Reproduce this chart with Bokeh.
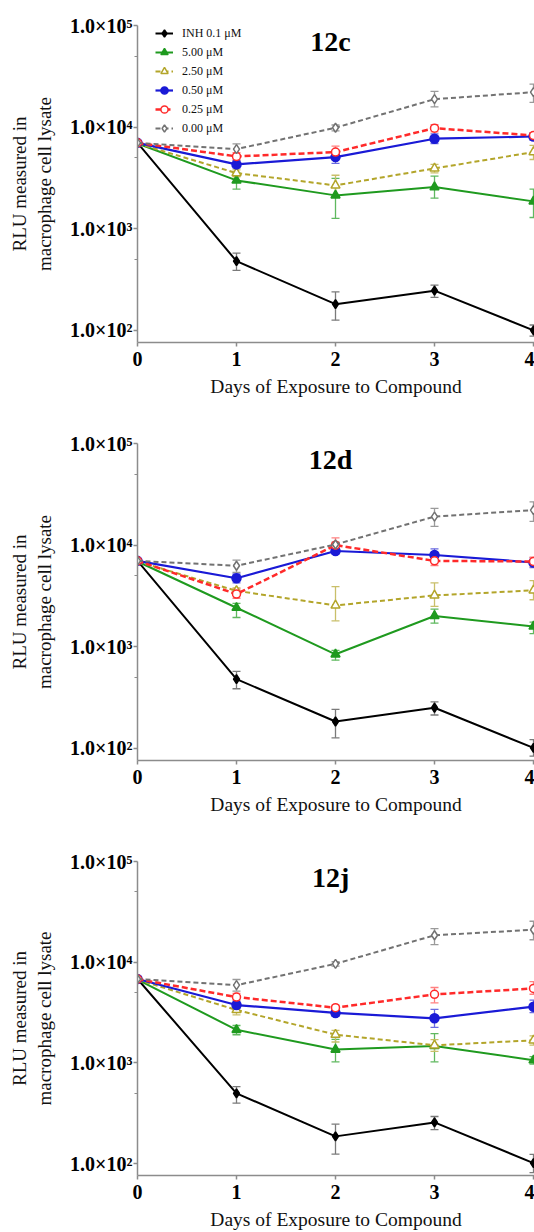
import math
from bokeh.plotting import figure
from bokeh.models import (ColumnDataSource, Whisker, TeeHead, FixedTicker,
                          Legend, LegendItem, Label, Range1d)
from bokeh.layouts import column
from bokeh.embed import file_html
from bokeh.resources import INLINE

# ---------------- data ----------------
days = [0, 1, 2, 3, 4]
series_labels = ["INH 0.1 \u03bcM", "5.00 \u03bcM", "2.50 \u03bcM", "0.50 \u03bcM", "0.25 \u03bcM", "0.00 \u03bcM"]
panel_titles = ["12c", "12d", "12j"]
y_tick_values = [1e2, 1e3, 1e4, 1e5]
y_tick_labels = ["1.0\u00d710\u00b2", "1.0\u00d710\u00b3", "1.0\u00d710\u2074", "1.0\u00d710\u2075"]
x_tick_values = [0, 1, 2, 3, 4]

# panel 12c
c_inh_mean = [7000, 480, 181, 246, 100]
c_inh_up = [7300, 577, 239, 279, 113]
c_inh_lo = [6700, 390, 126, 211, 88]
c_500_mean = [6900, 2990, 2130, 2570, 1860]
c_500_up = [7200, 3550, 3130, 3300, 2460]
c_500_lo = [6600, 2450, 1265, 2000, 1290]
c_250_mean = [6900, 3530, 2670, 3925, 5680]
c_250_up = [7200, 3800, 3360, 4300, 6600]
c_250_lo = [6600, 3250, 2040, 3550, 4800]
c_050_mean = [7000, 4300, 5070, 7690, 8090]
c_050_up = [7300, 4700, 5900, 8600, 8800]
c_050_lo = [6700, 3950, 4400, 6900, 7400]
c_025_mean = [7000, 5150, 5680, 9770, 8280]
c_025_up = [7300, 5600, 6500, 10600, 8800]
c_025_lo = [6700, 4750, 5000, 9000, 7700]
c_000_mean = [7000, 6080, 9860, 18840, 22080]
c_000_up = [7300, 6850, 10500, 22500, 26500]
c_000_lo = [6700, 5300, 9200, 15800, 17500]

# panel 12d
d_inh_mean = [7000, 480, 184, 251, 101]
d_inh_up = [7300, 573, 242, 287, 122]
d_inh_lo = [6700, 386, 127, 213, 84]
d_500_mean = [6900, 2420, 843, 2010, 1585]
d_500_up = [7200, 2670, 922, 2350, 1746]
d_500_lo = [6600, 1940, 738, 1706, 1345]
d_250_mean = [6900, 3550, 2550, 3200, 3590]
d_250_up = [7200, 3800, 3900, 4250, 4480]
d_250_lo = [6600, 3300, 1800, 2500, 2900]
d_050_mean = [7000, 4720, 8750, 8000, 6750]
d_050_up = [7300, 5200, 9300, 9200, 7500]
d_050_lo = [6700, 4250, 8200, 7100, 6000]
d_025_mean = [7000, 3300, 10000, 7000, 6900]
d_025_up = [7300, 3700, 11770, 7600, 7600]
d_025_lo = [6700, 3000, 9070, 6300, 6200]
d_000_mean = [7000, 6270, 10150, 19100, 22130]
d_000_up = [7300, 7110, 10700, 22960, 26700]
d_000_lo = [6700, 5390, 9600, 15280, 17100]

# panel 12j
j_inh_mean = [6800, 498, 186, 256, 101]
j_inh_up = [7100, 580, 246, 293, 123]
j_inh_lo = [6500, 397, 124, 217, 81]
j_500_mean = [6700, 2130, 1354, 1470, 1062]
j_500_up = [7000, 2350, 1714, 1950, 1150]
j_500_lo = [6400, 1900, 1023, 1023, 970]
j_250_mean = [6700, 3350, 1905, 1494, 1675]
j_250_up = [7000, 3800, 2100, 1700, 1850]
j_250_lo = [6400, 3000, 1610, 1300, 1500]
j_050_mean = [6800, 3750, 3130, 2770, 3610]
j_050_up = [7100, 4100, 3400, 3400, 4200]
j_050_lo = [6500, 3450, 2900, 2250, 3150]
j_025_mean = [6800, 4500, 3530, 4790, 5480]
j_025_up = [7100, 4900, 3750, 5600, 6400]
j_025_lo = [6500, 4200, 3350, 3950, 4800]
j_000_mean = [6800, 5910, 9620, 18500, 21000]
j_000_up = [7100, 6730, 10100, 21500, 25500]
j_000_lo = [6500, 5160, 9150, 14960, 16700]

panel_data = [
    [(c_inh_mean, c_inh_up, c_inh_lo), (c_500_mean, c_500_up, c_500_lo),
     (c_250_mean, c_250_up, c_250_lo), (c_050_mean, c_050_up, c_050_lo),
     (c_025_mean, c_025_up, c_025_lo), (c_000_mean, c_000_up, c_000_lo)],
    [(d_inh_mean, d_inh_up, d_inh_lo), (d_500_mean, d_500_up, d_500_lo),
     (d_250_mean, d_250_up, d_250_lo), (d_050_mean, d_050_up, d_050_lo),
     (d_025_mean, d_025_up, d_025_lo), (d_000_mean, d_000_up, d_000_lo)],
    [(j_inh_mean, j_inh_up, j_inh_lo), (j_500_mean, j_500_up, j_500_lo),
     (j_250_mean, j_250_up, j_250_lo), (j_050_mean, j_050_up, j_050_lo),
     (j_025_mean, j_025_up, j_025_lo), (j_000_mean, j_000_up, j_000_lo)],
]

# ---------------- styles ----------------
styles = [
    dict(color="#000000", dash="solid", marker="diamond", fill=True, size=9, lw=2.0),
    dict(color="#1f9a1f", dash="solid", marker="triangle", fill=True, size=9, lw=2.0),
    dict(color="#b3a52a", dash="5 3", marker="triangle", fill=False, size=9, lw=2.0),
    dict(color="#1a1ad6", dash="solid", marker="circle", fill=True, size=9, lw=2.2),
    dict(color="#ff2a2a", dash="6 3", marker="circle", fill=False, size=8, lw=2.5),
    dict(color="#727272", dash="5 3", marker="diamond", fill=False, size=9, lw=2.0),
]
errbar_colors = ["#7a7a7a", "#5fb85f", "#c9bf6a", "#6b6be0", "#ff8080", "#9a9a9a"]

FONT = "Liberation Serif"
AXIS_GRAY = "#8c8c8c"
W = 534
LEFT = 137
TOP = 25
FRAME_H = 317
PITCH = 418
TOTAL_H = 1232
BOTTOM_LAST = TOTAL_H - 2 * PITCH - TOP - FRAME_H
Y_LO, Y_HI = 76, 1e5
X_HI = 4.01


def make_panel(idx, show_legend, height, bottom):
    p = figure(width=W, height=height, y_axis_type="log",
               x_range=Range1d(0, X_HI), y_range=Range1d(Y_LO, Y_HI),
               output_backend="svg", toolbar_location=None,
               min_border_left=LEFT, min_border_right=0,
               min_border_top=TOP, min_border_bottom=bottom)
    p.outline_line_color = None
    p.xgrid.grid_line_color = None
    p.ygrid.grid_line_color = None
    p.background_fill_color = "white"
    p.border_fill_color = "white"

    items = []
    for k, (mean, up, lo) in enumerate(panel_data[idx]):
        st = styles[k]
        src = ColumnDataSource(dict(x=days, y=mean, up=up, lo=lo))
        w = Whisker(source=src, base="x", upper="up", lower="lo", dimension="height",
                    line_color=errbar_colors[k], line_width=1.3,
                    upper_head=TeeHead(size=8, line_color=errbar_colors[k], line_width=1.3),
                    lower_head=TeeHead(size=8, line_color=errbar_colors[k], line_width=1.3))
        p.add_layout(w)
        lr = p.line("x", "y", source=src, line_color=st["color"], line_width=st["lw"],
                    line_dash=st["dash"])
        sr = p.scatter("x", "y", source=src, marker=st["marker"], size=st["size"],
                       line_color=st["color"], line_width=1.5,
                       fill_color=st["color"] if st["fill"] else "white")
        items.append(LegendItem(label=series_labels[k], renderers=[lr, sr]))

    if show_legend:
        leg = Legend(items=items, location=(18, FRAME_H - 6 * 18 - 5 * 1 + 1),
                     margin=0, padding=0, spacing=1,
                     label_height=18, glyph_height=18, glyph_width=18,
                     label_standoff=9,
                     label_text_font=FONT, label_text_font_size="12px",
                     label_text_color="#111111",
                     background_fill_alpha=0, border_line_color=None)
        p.add_layout(leg)

    # panel title inside the frame
    lg_top, lg_bot = math.log10(Y_HI), math.log10(Y_LO)
    ty = 10 ** (lg_top - 16.0 / FRAME_H * (lg_top - lg_bot))
    p.add_layout(Label(x=1.95, y=ty, text=panel_titles[idx], text_font=FONT,
                       text_font_size="28px", text_font_style="bold",
                       text_color="black",
                       text_align="center", text_baseline="middle"))

    # x axis
    xa = p.xaxis[0]
    xa.ticker = FixedTicker(ticks=x_tick_values)
    xa.minor_tick_line_color = None
    xa.axis_line_color = AXIS_GRAY
    xa.axis_line_width = 1.5
    xa.major_tick_line_color = AXIS_GRAY
    xa.major_tick_line_width = 1.5
    xa.major_tick_in = 0
    xa.major_tick_out = 4
    xa.major_label_standoff = 5
    xa.major_label_text_font = FONT
    xa.major_label_text_font_size = "20px"
    xa.major_label_text_font_style = "bold"
    xa.major_label_text_color = "black"
    xa.axis_label = "Days of Exposure to Compound"
    xa.axis_label_text_font = FONT
    xa.axis_label_text_font_size = "19.5px"
    xa.axis_label_text_font_style = "normal"
    xa.axis_label_text_color = "#111111"
    xa.axis_label_standoff = 7

    # y axis
    ya = p.yaxis[0]
    ya.ticker = FixedTicker(ticks=y_tick_values, minor_ticks=[5e2, 5e3, 5e4])
    ya.major_label_overrides = {v: s for v, s in zip(y_tick_values, y_tick_labels)}
    ya.axis_line_color = AXIS_GRAY
    ya.axis_line_width = 1.5
    ya.major_tick_line_color = AXIS_GRAY
    ya.major_tick_line_width = 1.5
    ya.minor_tick_line_color = AXIS_GRAY
    ya.minor_tick_line_width = 1.2
    ya.major_tick_in = 0
    ya.major_tick_out = 4
    ya.minor_tick_in = 0
    ya.minor_tick_out = 3
    ya.major_label_standoff = 1
    ya.major_label_text_font = FONT
    ya.major_label_text_font_size = "20px"
    ya.major_label_text_font_style = "bold"
    ya.major_label_text_color = "black"
    ya.axis_label = "RLU measured in\nmacrophage cell lysate"
    ya.axis_label_text_font = FONT
    ya.axis_label_text_font_size = "19px"
    ya.axis_label_text_font_style = "normal"
    ya.axis_label_text_color = "#111111"
    ya.axis_label_standoff = 12
    return p


p1 = make_panel(0, True, PITCH, PITCH - TOP - FRAME_H)
p2 = make_panel(1, False, PITCH, PITCH - TOP - FRAME_H)
p3 = make_panel(2, False, TOP + FRAME_H + BOTTOM_LAST, BOTTOM_LAST)

layout = column(p1, p2, p3, spacing=0)
open("out.html", "w").write(file_html(layout, INLINE))
